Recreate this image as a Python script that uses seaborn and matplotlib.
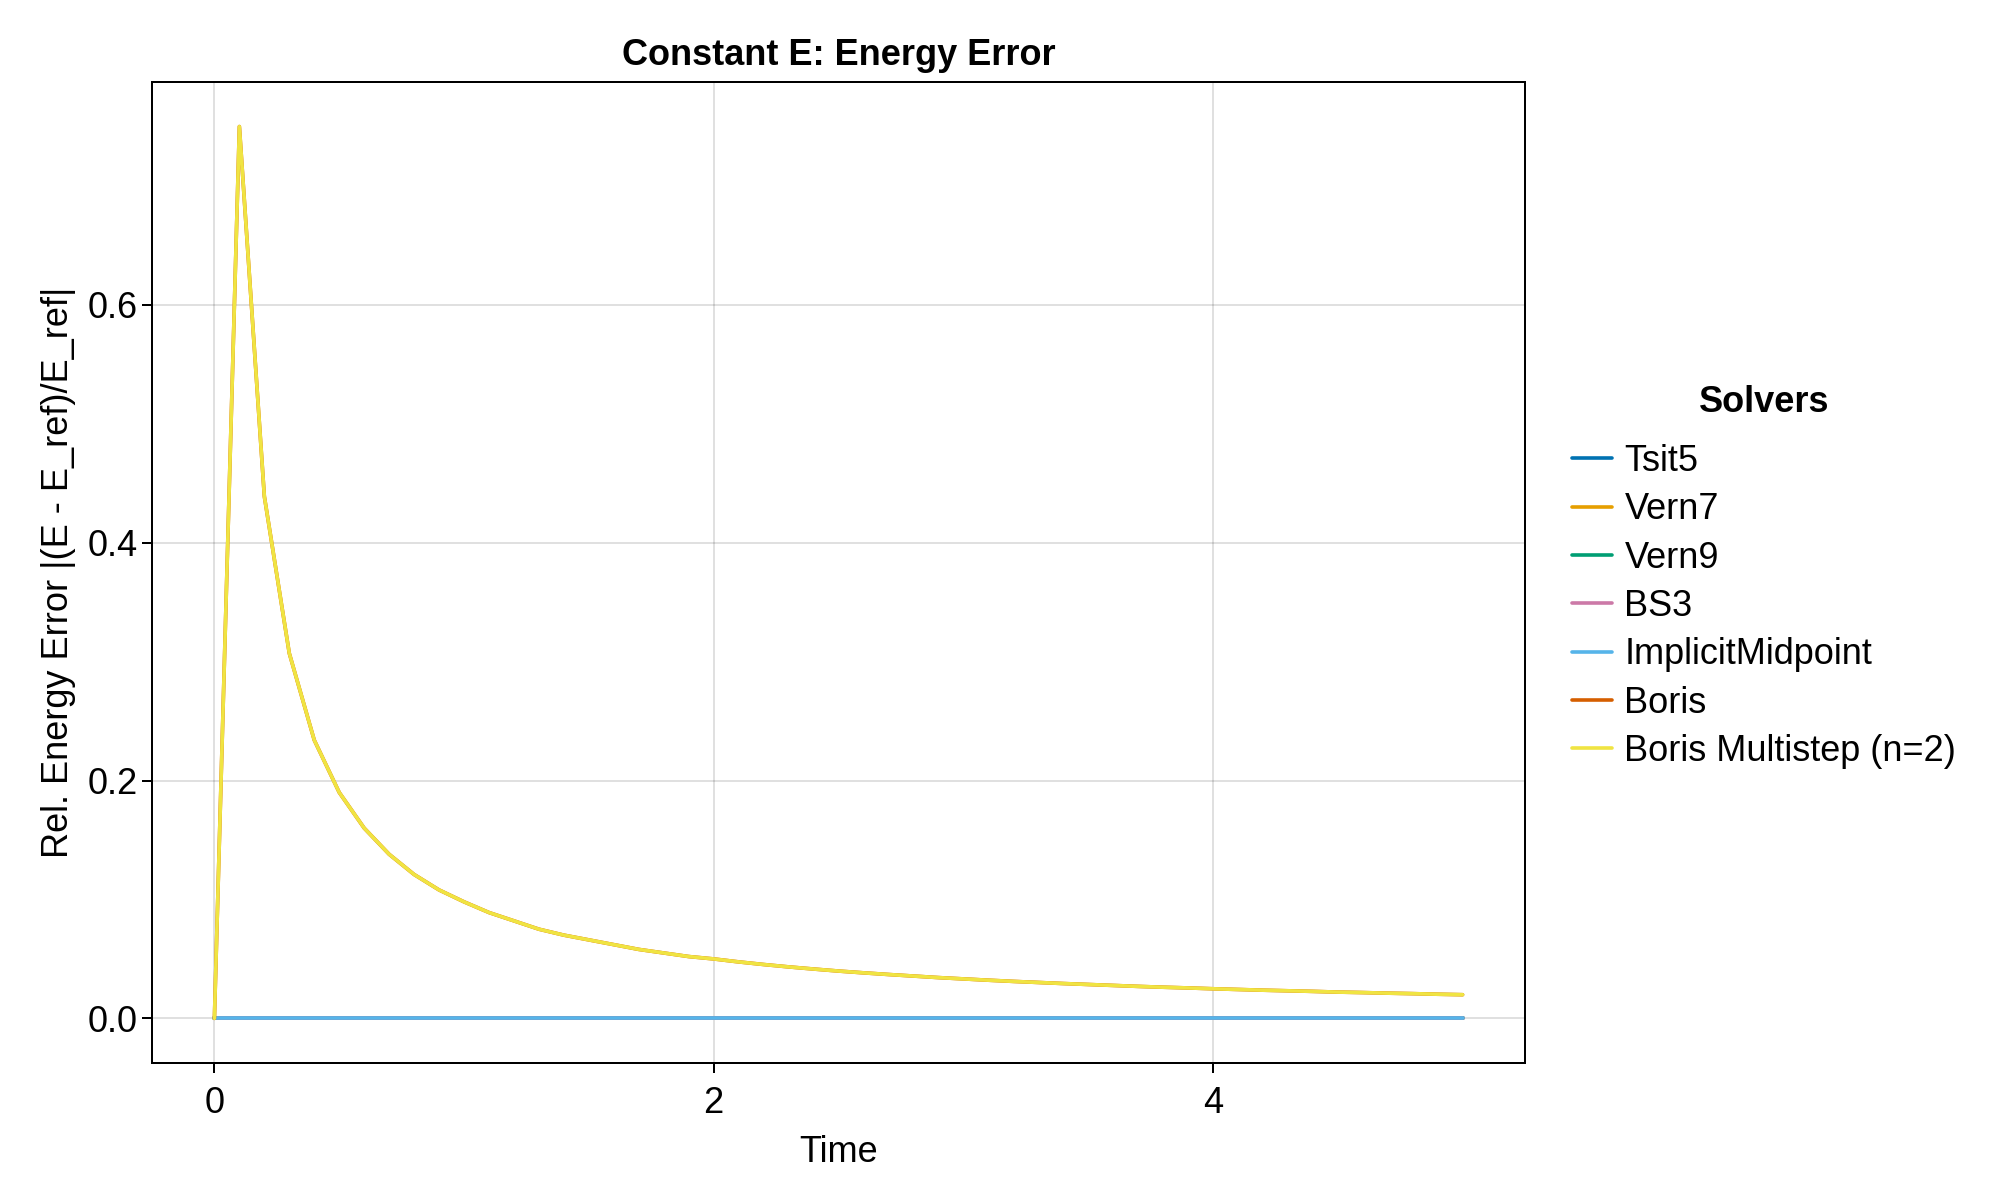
import numpy as np
import pandas as pd
import matplotlib
matplotlib.use("Agg")
import matplotlib.pyplot as plt
import seaborn as sns

# ---- data ----
time = np.linspace(0.0, 5.0, 51)

solvers = ["Tsit5", "Vern7", "Vern9", "BS3", "ImplicitMidpoint",
           "Boris", "Boris Multistep (n=2)"]
colors = ["#0072B2", "#E69F00", "#009E73", "#CC79A7", "#56B4E9",
          "#D55E00", "#F0E442"]

zero_err = [0.0] * 51

boris_err = [0.0, 0.750, 0.439, 0.307, 0.234, 0.190, 0.160, 0.138, 0.121, 0.108,
             0.098, 0.089, 0.082, 0.075, 0.070, 0.066, 0.062, 0.058, 0.055, 0.052,
             0.050, 0.0475, 0.0453, 0.0433, 0.0415, 0.0398, 0.0383, 0.0369, 0.0356,
             0.0343, 0.0332, 0.0321, 0.0311, 0.0302, 0.0293, 0.0285, 0.0277, 0.0269,
             0.0262, 0.0256, 0.0249, 0.0243, 0.0237, 0.0232, 0.0227, 0.0221, 0.0217,
             0.0212, 0.0208, 0.0203, 0.0199]
multistep_err = list(boris_err)

series = {
    "Tsit5": zero_err,
    "Vern7": zero_err,
    "Vern9": zero_err,
    "BS3": zero_err,
    "ImplicitMidpoint": zero_err,
    "Boris": boris_err,
    "Boris Multistep (n=2)": multistep_err,
}

rows = []
for s in solvers:
    for t, v in zip(time, series[s]):
        rows.append({"Time": t, "err": v, "Solver": s})
df = pd.DataFrame(rows)

# ---- style ----
sns.set_theme(style="white")
plt.rcParams["font.family"] = ["Liberation Sans", "DejaVu Sans"]
FS = 13
plt.rcParams.update({
    "font.size": FS,
    "text.color": "black",
    "axes.labelcolor": "black",
    "axes.titlecolor": "black",
    "xtick.color": "black",
    "ytick.color": "black",
    "axes.linewidth": 0.72,
    "xtick.direction": "out",
    "ytick.direction": "out",
})

fig = plt.figure(figsize=(10, 6), dpi=200)
ax = fig.add_axes([0.076, 0.1142, 0.6865, 0.8175])

sns.lineplot(data=df, x="Time", y="err", hue="Solver", hue_order=solvers,
             palette=colors, estimator=None, sort=False, linewidth=1.3, ax=ax)

ax.set_xlim(-0.25, 5.25)
ax.set_ylim(-0.0375, 0.7875)
ax.set_xticks([0, 2, 4])
ax.set_xticklabels(["0", "2", "4"])
ax.set_yticks([0.0, 0.2, 0.4, 0.6])
ax.set_yticklabels(["0.0", "0.2", "0.4", "0.6"])
ax.tick_params(axis="both", which="major", labelsize=FS, length=3.6, width=0.72,
               color="black", labelcolor="black", bottom=True, left=True)
ax.tick_params(axis="x", pad=4.6)
ax.tick_params(axis="y", pad=1.6)
ax.grid(True, color="black", alpha=0.12, linewidth=0.72)
ax.set_axisbelow(True)
for sp in ax.spines.values():
    sp.set_color("black")
    sp.set_linewidth(0.72)
    sp.set_visible(True)

ax.set_title("Constant E: Energy Error", fontsize=FS, fontweight="bold",
             color="black", pad=6)
ax.set_xlabel("Time", fontsize=FS, labelpad=5, color="black")
ax.set_ylabel("Rel. Energy Error |(E - E_ref)/E_ref|", fontsize=FS,
              labelpad=4.2, color="black")

sns.move_legend(ax, "center left", bbox_to_anchor=(0.786, 0.519),
                bbox_transform=fig.transFigure, title="Solvers", frameon=False,
                fontsize=FS, title_fontsize=FS, handlelength=1.1,
                handletextpad=0.35, labelspacing=0.37, borderpad=0,
                borderaxespad=0)
leg = ax.get_legend()
leg.get_title().set_fontweight("bold")
leg.get_title().set_color("black")
leg._legend_box.sep = 8.5
for txt in leg.get_texts():
    txt.set_color("black")
for line in leg.get_lines():
    line.set_linewidth(1.3)

fig.savefig("out.png", dpi=200, facecolor="white")
